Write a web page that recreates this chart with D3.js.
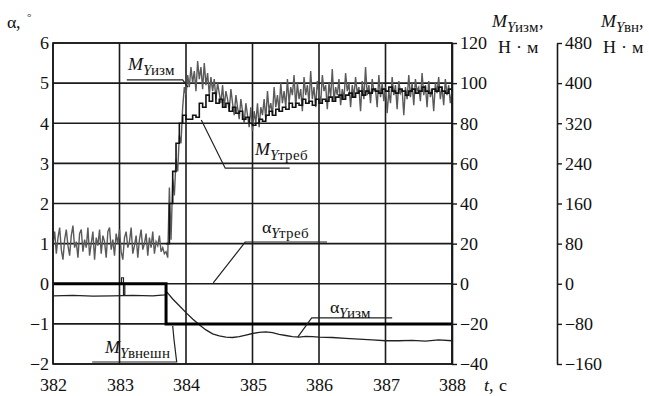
<!DOCTYPE html>
<html>
<head>
<meta charset="utf-8">
<script src="https://cdn.jsdelivr.net/npm/d3@7"></script>
<style>
  @font-face {
    font-family: "ChartSerif";
    src: local("Liberation Serif"), local("LiberationSerif"), local("LiberationSerif-Regular"),
         local("DejaVu Serif"), local("DejaVuSerif");
    font-style: normal;
  }
  @font-face {
    font-family: "ChartSerif";
    src: local("Liberation Serif Italic"), local("LiberationSerif-Italic"),
         local("DejaVu Serif Italic"), local("DejaVuSerif-Italic");
    font-style: italic;
  }
  body { margin: 0; background: #fff; }
</style>
</head>
<body>
<div id="chart"></div>
<script>
// time axis and tick values
const timeTicks = [382, 383, 384, 385, 386, 387, 388];
const alphaTicks = [-2, -1, 0, 1, 2, 3, 4, 5, 6];
const mIzmTicks = [-40, -20, 0, 20, 40, 60, 80, 100, 120];
const mVnTicks = [-160, -80, 0, 80, 160, 240, 320, 400, 480];

// M_Y izm (N*m), sampled from 382.000 every 0.025 s
const mIzmStart = 382, mIzmStep = 0.025;
const mIzm = [
  20, 26, 15, 23, 28, 17, 12, 22, 27, 19, 14, 24, 29, 18, 21, 13, 25, 27, 16, 22,
  18, 28, 14, 20, 26, 12, 23, 19, 27, 15, 24, 21, 13, 26, 28, 17, 22, 14, 25, 20,
  27, 16, 12, 23, 26, 18, 21, 28, 15, 19, 24, 13, 22, 27, 17, 20, 25, 14, 23, 18,
  26, 15, 21, 19, 24, 16, 18, 15, 16,
  13, 48, 22, 52, 44, 62, 56, 74, 70, 88, 98,
  94, 104, 98, 108, 100, 106, 96, 111, 102, 108, 97, 110, 99, 105, 94, 103, 96,
  102, 92, 100, 95, 90, 99, 88, 96, 92, 86, 97, 90, 84, 94, 88, 82, 92, 86, 80, 90, 84, 78, 88,
  76, 86, 80, 90, 78, 88, 84, 92, 82, 96, 86, 90, 84, 98, 88, 94, 86, 100, 90, 96, 88,
  102, 90, 98, 94, 104, 88, 100, 92, 97, 86,
  103, 94, 99, 90, 106, 92, 98, 88, 101, 95,
  90, 104, 96, 99, 87, 100, 93, 107, 91, 98,
  94, 102, 89, 97, 92, 105, 96, 100, 88, 99,
  93, 103, 95, 98, 86, 101, 92, 108, 94, 99,
  90, 102, 96, 97, 88, 104, 93, 100, 91, 98,
  85, 96, 90, 103, 94, 99, 87, 101, 95, 97,
  84, 98, 92, 104, 93, 100, 89, 102, 96, 98,
  91, 105, 94, 99, 88, 101, 93, 97, 86, 100,
  95, 103, 92, 98, 89, 102, 94, 99, 90, 96
];

// M_Y treb (N*m), sampled from 383.70 every 0.05 s
const mTrebStart = 383.7, mTrebStep = 0.05;
const mTreb = [
  20, 40, 56, 70, 80, 84, 82,
  82, 84, 83, 90, 88, 94, 91, 95, 90, 92, 88, 90, 86, 88, 85, 86, 82, 83, 80, 79,
  80, 82, 81, 84, 86, 84, 87, 86, 88, 87, 90, 88, 90, 89, 92, 90, 91, 89, 92, 90,
  92, 91, 93, 91, 93, 94, 92, 94, 95, 93, 95, 96, 94, 96, 95, 97, 96, 95, 97, 96,
  98, 96, 95, 97, 96, 94, 96, 97, 95, 96, 98, 96, 95, 97, 96, 98, 96, 95, 97, 96
];

// alpha_Y izm (deg)
const aIzmT = [382.0, 382.3, 382.6, 382.9, 383.2, 383.5, 383.68, 383.72,
  383.8, 383.9, 384.0, 384.1, 384.2, 384.3, 384.4, 384.5, 384.6, 384.7, 384.8, 384.9,
  385.0, 385.1, 385.2, 385.3, 385.4, 385.5, 385.6, 385.7, 385.8, 385.9, 386.0,
  386.2, 386.4, 386.6, 386.8, 387.0, 387.2, 387.4, 387.6, 387.8, 388.0];
const aIzm = [-0.30, -0.29, -0.31, -0.30, -0.29, -0.30, -0.28, -0.22,
  -0.38, -0.55, -0.72, -0.88, -1.02, -1.15, -1.25, -1.30, -1.33, -1.34, -1.32, -1.28,
  -1.24, -1.21, -1.20, -1.22, -1.26, -1.29, -1.32, -1.33, -1.31, -1.32, -1.33,
  -1.34, -1.36, -1.38, -1.40, -1.42, -1.42, -1.41, -1.43, -1.40, -1.42];

// alpha_Y treb (deg), step
const aTrebT = [382, 383.7, 388];
const aTreb = [0, -1, -1];

// M_Y vneshn (N*m)
const mExtT = [382, 383.03, 383.03, 383.06, 383.06, 383.08, 383.08, 383.7, 383.7, 388];
const mExt = [0, 0, 12, 12, -22, -22, 0, 0, -80, -80];

const W = 649, H = 396;
const serif = "ChartSerif, 'Liberation Serif', 'DejaVu Serif', serif";
const svg = d3.select("#chart").append("svg")
  .attr("width", W).attr("height", H)
  .attr("font-family", serif)
  .style("font-family", serif);

const x = d3.scaleLinear().domain([382, 388]).range([53, 452]);
const yA = d3.scaleLinear().domain([-2, 6]).range([364, 43]);
const yM = d3.scaleLinear().domain([-40, 120]).range([364, 43]);
const yV = d3.scaleLinear().domain([-160, 480]).range([364, 43]);

const ink = "#1a1a1a";

// grid
svg.append("g").selectAll("line").data(timeTicks).enter().append("line")
  .attr("x1", d => x(d)).attr("x2", d => x(d))
  .attr("y1", yA(6)).attr("y2", yA(-2))
  .attr("stroke", ink).attr("stroke-width", 1.6);
svg.append("g").selectAll("line").data(alphaTicks).enter().append("line")
  .attr("x1", x(382)).attr("x2", x(388))
  .attr("y1", d => yA(d)).attr("y2", d => yA(d))
  .attr("stroke", ink).attr("stroke-width", 1.6);

// axes
const fmt = d3.format("d");
const leftAxis = svg.append("g").attr("transform", `translate(${x(382)},0)`)
  .call(d3.axisLeft(yA).tickValues(alphaTicks).tickFormat(fmt).tickSize(0).tickPadding(4));
const bottomAxis = svg.append("g").attr("transform", `translate(0,${yA(-2)})`)
  .call(d3.axisBottom(x).tickValues(timeTicks).tickFormat(fmt).tickSize(0).tickPadding(14));
const right1 = svg.append("g").attr("transform", `translate(${x(388)},0)`)
  .call(d3.axisRight(yM).tickValues(mIzmTicks).tickFormat(fmt).tickSize(5).tickSizeOuter(0).tickPadding(3));
const right2 = svg.append("g").attr("transform", "translate(557,0)")
  .call(d3.axisRight(yV).tickValues(mVnTicks).tickFormat(fmt).tickSize(5).tickSizeOuter(0).tickPadding(3));

[leftAxis, bottomAxis].forEach(a => a.select(".domain").remove());
right1.select(".domain").attr("stroke", ink).attr("stroke-width", 1.6);
right2.select(".domain").attr("stroke", ink).attr("stroke-width", 1.6);
[right1, right2].forEach(a => a.selectAll(".tick line").attr("stroke", ink).attr("stroke-width", 1.4));
[leftAxis, bottomAxis, right1, right2].forEach(a => {
  a.attr("font-family", serif).attr("font-size", 18);
  a.selectAll("text").attr("fill", "#111");
});

// series
svg.append("path")
  .datum(mIzm)
  .attr("fill", "none").attr("stroke", "#5a5a5a").attr("stroke-width", 1.4)
  .attr("d", d3.line().x((d, i) => x(mIzmStart + i * mIzmStep)).y(d => yM(d)));

svg.append("path")
  .datum(mTreb)
  .attr("fill", "none").attr("stroke", "#111").attr("stroke-width", 1.6)
  .attr("d", d3.line().curve(d3.curveStepAfter)
    .x((d, i) => x(mTrebStart + i * mTrebStep)).y(d => yM(d)));

svg.append("path")
  .datum(aIzm)
  .attr("fill", "none").attr("stroke", "#222").attr("stroke-width", 1.3)
  .attr("d", d3.line().x((d, i) => x(aIzmT[i])).y(d => yA(d)));

svg.append("path")
  .datum(mExt)
  .attr("fill", "none").attr("stroke", "#222").attr("stroke-width", 1.2)
  .attr("d", d3.line().x((d, i) => x(mExtT[i])).y(d => yV(d)));

svg.append("path")
  .datum(aTreb)
  .attr("fill", "none").attr("stroke", "#000").attr("stroke-width", 3)
  .attr("d", d3.line().curve(d3.curveStepAfter).x((d, i) => x(aTrebT[i])).y(d => yA(d)));

// box
svg.append("rect")
  .attr("x", x(382)).attr("y", yA(6))
  .attr("width", x(388) - x(382)).attr("height", yA(-2) - yA(6))
  .attr("fill", "none").attr("stroke", ink).attr("stroke-width", 1.6);

// label helper: parts = [text, italic, subscript]
function label(px, py, parts, size, subSize) {
  const t = svg.append("text").attr("x", px).attr("y", py)
    .attr("font-size", size).attr("fill", "#111");
  let inSub = false;
  parts.forEach(([s, it, sub]) => {
    const ts = t.append("tspan").text(s);
    if (it) ts.attr("font-style", "italic");
    if (sub) ts.attr("font-size", subSize);
    if (sub && !inSub) ts.attr("dy", 5);
    if (!sub && inSub) ts.attr("dy", -5);
    inSub = sub;
  });
  return t;
}

// leader lines, in data units (time, alpha)
const leaders = [
  [[383.11, 5.08], [383.95, 5.08], [384.03, 4.9]],
  [[385.56, 2.88], [384.59, 2.88], [384.23, 4.08]],
  [[386.12, 1.04], [384.89, 1.04], [384.41, 0.02]],
  [[387.10, -0.85], [385.89, -0.85], [385.68, -1.33]],
  [[382.59, -1.95], [383.86, -1.95], [383.82, -1.4], [383.80, -1.05]]
];
leaders.forEach(pts => svg.append("path")
  .attr("fill", "none").attr("stroke", "#222").attr("stroke-width", 1.2)
  .attr("d", d3.line().x(p => x(p[0])).y(p => yA(p[1]))(pts)));

label(x(383.13), yA(5.33), [["M", true, false], ["Y", true, true], ["изм", false, true]], 18, 15);
label(x(385.04), yA(3.21), [["M", true, false], ["Y", true, true], ["треб", false, true]], 18, 15);
label(x(385.14), yA(1.26), [["α", false, false], ["Y", true, true], ["треб", false, true]], 18, 15);
label(x(386.17), yA(-0.73), [["α", false, false], ["Y", true, true], ["изм", false, true]], 18, 15);
label(x(382.78), yA(-1.73), [["M", true, false], ["Y", true, true], ["внешн", false, true]], 18, 15);

// axis titles
label(7, 28, [["α, ", false, false]], 18, 14);
svg.append("text").attr("x", 27).attr("y", 22).attr("font-size", 11).attr("fill", "#111").text("°");
label(492, 27, [["M", true, false], ["Y", true, true], ["изм", false, true], [",", false, false]], 18, 15);
svg.append("text").attr("x", 498).attr("y", 53).attr("font-size", 18).attr("fill", "#111").text("Н · м");
label(601, 27, [["M", true, false], ["Y", true, true], ["вн", false, true], [",", false, false]], 18, 15);
svg.append("text").attr("x", 603).attr("y", 53).attr("font-size", 18).attr("fill", "#111").text("Н · м");
label(484, 391, [["t", true, false], [",  с", false, false]], 18, 14);
</script>
</body>
</html>
